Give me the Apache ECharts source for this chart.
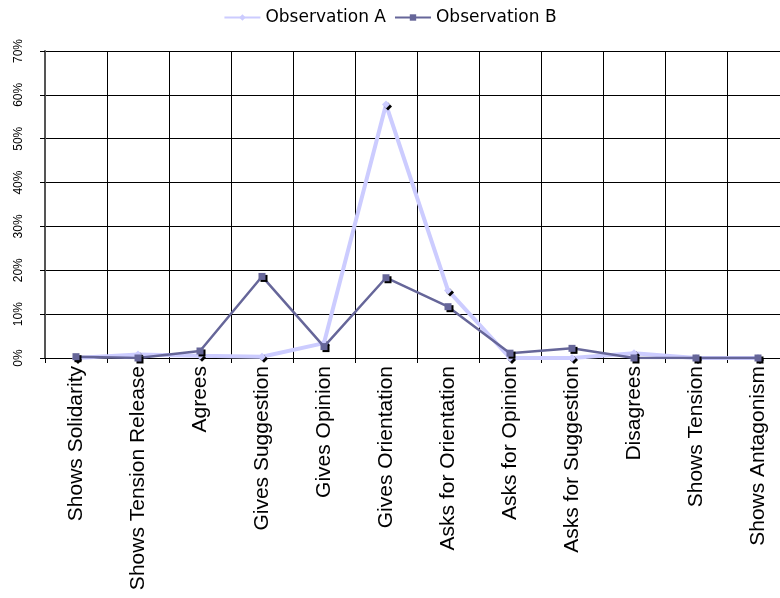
<!DOCTYPE html>
<html>
<head>
<meta charset="utf-8">
<script src="https://cdn.jsdelivr.net/npm/echarts@6/dist/echarts.min.js"></script>
<style>
  html, body { margin: 0; padding: 0; background: #ffffff; overflow: hidden; }
  #chart { width: 780px; height: 598px; }
</style>
</head>
<body>
<div id="chart"></div>
<script>
// Interaction process categories
const categories = [
  'Shows Solidarity', 'Shows Tension Release', 'Agrees', 'Gives Suggestion',
  'Gives Opinion', 'Gives Orientation', 'Asks for Orientation', 'Asks for Opinion',
  'Asks for Suggestion', 'Disagrees', 'Shows Tension', 'Shows Antagonism'
];

// Share of acts per category (percent)
const observationA = [0, 0.8, 0.5, 0.3, 3.4, 57.8, 15.4, 0, 0, 1.1, 0, 0];
const observationB = [0.3, 0, 1.6, 18.6, 2.6, 18.3, 11.7, 1.1, 2.2, 0, 0, 0];

const seriesNames = ['Observation A', 'Observation B'];

// Value axis ticks (percent)
const yMin = 0;
const yMax = 70;
const yStep = 10;

const chart = echarts.init(document.getElementById('chart'), null, { renderer: 'canvas' });

const markerShadow = {
  shadowColor: '#000000',
  shadowBlur: 0,
  shadowOffsetX: 2,
  shadowOffsetY: 2
};

chart.setOption({
  animation: false,
  backgroundColor: '#ffffff',
  legend: {
    top: 4,
    left: 'center',
    itemWidth: 36,
    itemHeight: 8,
    itemGap: 8,
    textStyle: { fontFamily: 'DejaVu Sans', fontSize: 17, color: '#000000' },
    data: seriesNames
  },
  // the plot runs a little past the right edge of the canvas
  grid: {
    left: 45, width: 744, top: 51, bottom: 240,
    containLabel: false,
    outerBoundsMode: 'none'
  },
  xAxis: {
    type: 'category',
    data: categories,
    boundaryGap: true,
    axisLine: { lineStyle: { color: '#000000', width: 1 } },
    axisTick: { show: true, interval: 0, length: 5, lineStyle: { color: '#000000' } },
    splitLine: { show: true, interval: 0, lineStyle: { color: '#000000', width: 1 } },
    axisLabel: {
      interval: 0,
      rotate: 90,
      margin: 8,
      color: '#000000',
      fontFamily: 'Liberation Sans',
      fontSize: 21
    }
  },
  yAxis: {
    type: 'value',
    min: yMin,
    max: yMax,
    interval: yStep,
    axisLine: { show: true, lineStyle: { color: '#555555', width: 2 } },
    axisTick: { show: true, length: 5, lineStyle: { color: '#000000' } },
    splitLine: { show: true, lineStyle: { color: '#000000', width: 1 } },
    axisLabel: {
      rotate: 90,
      margin: 20,
      color: '#000000',
      fontFamily: 'Liberation Sans',
      fontSize: 12,
      formatter: '{value}%'
    }
  },
  series: [
    {
      name: seriesNames[0],
      type: 'line',
      data: observationA,
      symbol: 'diamond',
      symbolSize: 8,
      z: 2,
      lineStyle: { color: '#CCCCFF', width: 4 },
      itemStyle: Object.assign({ color: '#CCCCFF' }, markerShadow)
    },
    {
      name: seriesNames[1],
      type: 'line',
      data: observationB,
      symbol: 'rect',
      symbolSize: 7,
      z: 3,
      lineStyle: { color: '#666699', width: 2.5 },
      itemStyle: Object.assign({ color: '#666699' }, markerShadow)
    }
  ]
});
</script>
</body>
</html>
